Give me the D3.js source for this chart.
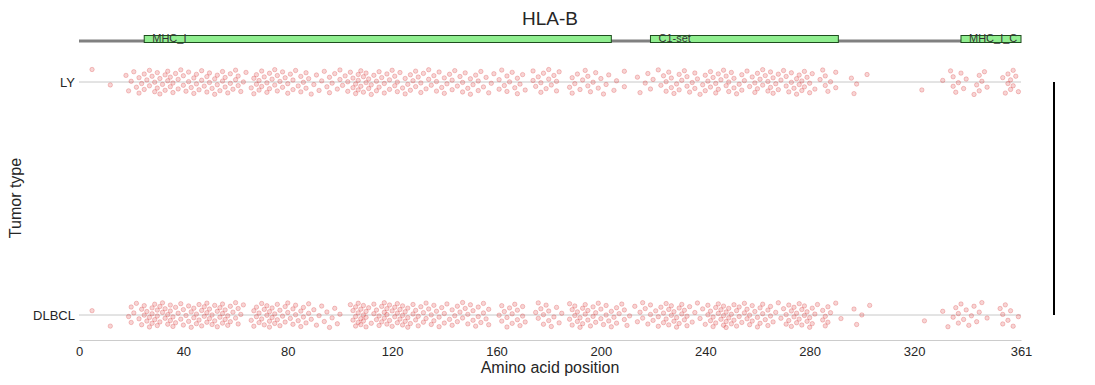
<!DOCTYPE html>
<html>
<head>
<meta charset="utf-8">
<script src="https://cdn.jsdelivr.net/npm/d3@7"></script>
<style>
  body { margin: 0; background: #fff; }
  text { font-family: "Liberation Sans", Arial, sans-serif; fill: #262626; }
</style>
</head>
<body>
<svg id="chart" width="1095" height="385"></svg>
<script>
const geneName = "HLA-B";
const proteinLength = 361;
const tumorTypes = ["LY", "DLBCL"];
const xTicks = [0, 40, 80, 120, 160, 200, 240, 280, 320, 361];

// Pfam domains
const domainNames = ["MHC_I", "C1-set", "MHC_I_C"];
const domainStart = [25, 219, 338];
const domainEnd = [204, 291, 361];

// mutation positions, one entry per point
const lyPositions = [
  5, 12, 18, 19, 20, 21, 22,
  23, 23, 24, 25, 25, 26, 27, 27, 28, 29, 29, 30, 30, 31, 31, 32, 33, 33, 34, 34, 35, 35,
  36, 36, 37, 38, 38, 39, 40, 40, 41, 42, 42, 43, 44, 44, 45, 45, 46, 47, 47, 48,
  49, 49, 50, 50, 51, 52, 52, 53, 53, 54, 55, 55, 56, 56, 57, 58, 58, 59, 60, 60, 61, 61, 62, 63,
  64,
  66, 67, 67, 68, 68, 69, 69, 70, 70, 71, 72, 72, 73, 73, 74, 75, 75, 76, 76, 77, 78, 78, 79, 80, 80, 81, 82, 82, 83, 84, 85, 85,
  86, 87, 87, 88, 89, 90, 91, 92, 93, 94, 95, 96, 96, 97, 98, 99, 100, 100, 101, 102, 103, 103,
  104, 105, 105, 106, 106, 107, 107, 107, 108, 108, 109, 109, 110, 110, 111, 111, 112, 112, 113, 114, 114, 115, 115, 116, 117, 117, 118, 119, 119, 120, 121, 121, 122, 122, 123, 124,
  125, 125, 126, 127, 127, 128, 129, 129, 130, 131, 131, 132, 133, 134, 134, 135, 136, 137, 137, 138, 139, 140, 140, 141, 142, 143, 143, 144, 145, 146,
  147, 147, 148, 149, 150, 150, 151, 152, 153, 153, 154, 155, 156, 157, 158, 159,
  161, 161, 162, 163, 164, 164, 165, 166, 167, 168, 168, 169, 170, 171,
  174, 174, 175, 176, 177, 177, 178, 179, 180, 180, 181, 182, 183, 183, 184,
  188, 189, 189, 190, 191, 192, 193, 194, 195, 195, 196, 197, 198, 199, 200, 201, 202, 203, 205, 206,
  209, 209,
  214, 215, 217, 218, 219, 220, 222, 223,
  224, 225, 225, 226, 227, 227, 228, 229, 230, 230, 231, 232, 233, 233, 234, 235,
  236, 236, 237, 238, 239, 240, 240, 241, 242, 242, 243, 244, 244, 245, 245, 246,
  247, 248, 248, 249, 249, 250, 251, 251, 252, 253, 254, 254, 255, 256, 257, 258,
  259, 259, 260, 260, 261, 262, 262, 263, 264, 264, 265, 265, 266, 266, 267, 268, 268, 269,
  270, 271, 271, 272, 273, 273, 274, 275, 275, 276, 276, 277, 277, 278, 278, 279, 280, 280, 281, 282,
  284, 285, 286, 286, 287, 288, 290, 290,
  296, 297, 298, 302, 323, 331,
  334, 335, 335, 336, 337, 338, 339, 340,
  343, 344, 345, 345, 346, 347, 348,
  354, 355, 356, 356, 357, 357, 358, 358, 359, 360
];

const dlbclPositions = [
  5, 12,
  19, 20, 20, 21, 22, 23, 24, 24,
  25, 25, 26, 26, 27, 27, 28, 28, 28, 29, 29, 30, 30, 30, 31, 31, 32, 32, 33, 33, 34, 34, 35, 35, 35, 36, 36, 37, 37, 38,
  39, 39, 40, 40, 41, 42, 42, 43, 43, 44, 44, 45, 45, 46, 46, 47, 47, 48, 48, 49, 49, 49, 50, 50, 51, 51, 52, 52,
  53, 53, 54, 54, 55, 55, 55, 56, 56, 57, 57, 58, 58, 59, 60, 60, 61, 61, 62, 63,
  66, 67, 67, 68, 68, 69, 69, 70, 70, 71, 71, 72, 72, 73, 73, 73, 74, 74, 75, 75, 76, 76,
  77, 77, 78, 79, 79, 80, 80, 81, 82, 82, 83, 83, 84, 85, 85, 86, 86, 87, 88, 88, 89, 90,
  91, 92, 93, 94, 95, 96, 97, 98, 99, 100,
  104, 105, 105, 106, 106, 106, 107, 107, 107, 108, 108, 108, 109, 109, 109, 110, 110, 110,
  111, 112, 113, 113, 114, 114, 115, 115, 116, 116, 117, 117, 117, 118, 118, 118, 119, 119, 120, 120, 121, 121, 122, 122, 122, 123, 123, 124, 124, 124, 125, 125, 126, 126, 126,
  127, 128, 128, 129, 129, 130, 130, 131, 132, 132, 133, 133, 134, 135, 135, 136, 136, 137, 138, 138, 139, 140, 140, 141,
  142, 143, 143, 144, 145, 145, 146, 147, 147, 148, 149, 149, 150, 151, 151, 152, 153, 153, 154, 155, 155, 156, 157, 157,
  161, 162, 162, 163, 164, 164, 165, 166, 166, 167, 168, 168, 169, 170, 170, 171,
  175, 176, 176, 177, 178, 178, 179, 180, 180, 181, 182, 183, 184, 185,
  188, 188, 189, 189, 190, 190, 191, 191, 192, 192, 193, 193, 194, 194, 195, 195,
  196, 197, 197, 198, 198, 199, 200, 200, 201, 202, 202, 203, 204, 204, 205, 206, 206, 207,
  208, 209, 209, 210, 211,
  213, 214, 215, 216, 216, 217, 218, 219, 219, 220, 221, 222, 222, 223,
  224, 224, 225, 225, 226, 226, 227, 227, 228, 228, 229, 229, 230, 230, 231, 231, 232, 232, 233, 233,
  234, 235, 236, 237, 238, 239, 240, 241,
  241, 242, 242, 243, 243, 244, 244, 245, 245, 246, 246, 247, 247, 247, 248, 248, 248, 249, 249, 250, 250, 251, 251, 252, 252, 253, 253, 254,
  255, 255, 256, 256, 257, 257, 258, 258, 259, 260, 260, 261, 261, 262, 262, 263, 264, 264, 265, 265, 266, 267, 268, 269, 270,
  271, 271, 272, 272, 273, 273, 274, 274, 275, 275, 276, 276, 277, 277, 278, 278, 279, 279, 280, 280, 281, 281, 282, 283,
  285, 285, 286, 286, 287, 287, 288, 290,
  292, 297, 298, 300, 303, 324, 331, 333, 335,
  336, 337, 337, 338, 339, 340, 341, 342, 343, 344, 345, 346,
  348,
  353, 354, 354, 355, 356, 357, 358, 360
];

const svg = d3.select("#chart");

const x = d3.scaleLinear().domain([0, proteinLength]).range([79, 1021]);
const y = d3.scalePoint().domain(tumorTypes).range([82, 315]);
const axisY = 340;
const jitterPx = 12.5;

// title
svg.append("text")
  .attr("x", 550).attr("y", 25)
  .attr("text-anchor", "middle")
  .style("font-size", "19px")
  .text(geneName);

// protein backbone + domains
svg.append("line")
  .attr("x1", x(0)).attr("x2", x(proteinLength))
  .attr("y1", 41).attr("y2", 41)
  .attr("stroke", "#808080").attr("stroke-width", 3);

const domains = domainNames.map((n, i) => ({ name: n, start: domainStart[i], end: domainEnd[i] }));

svg.selectAll(".domain-box")
  .data(domains)
  .enter().append("rect")
  .attr("class", "domain-box")
  .attr("x", d => x(d.start))
  .attr("y", 35.5)
  .attr("width", d => x(d.end) - x(d.start))
  .attr("height", 7)
  .attr("fill", "#90ee90")
  .attr("stroke", "#1e4d1e")
  .attr("stroke-width", 1);

svg.selectAll(".domain-label")
  .data(domains)
  .enter().append("text")
  .attr("class", "domain-label")
  .attr("x", d => x(d.start) + 8)
  .attr("y", 42)
  .style("font-size", "11px")
  .style("fill", "#333")
  .text(d => d.name);

// category gridlines
svg.selectAll(".grid")
  .data(tumorTypes)
  .enter().append("line")
  .attr("class", "grid")
  .attr("x1", x(0)).attr("x2", x(proteinLength))
  .attr("y1", d => y(d)).attr("y2", d => y(d))
  .attr("stroke", "#c8c8c8").attr("stroke-width", 1);

// x axis
const xAxis = svg.append("g")
  .attr("transform", `translate(0, ${axisY})`)
  .call(d3.axisBottom(x).tickValues(xTicks).tickSize(0).tickPadding(7));
xAxis.select(".domain").attr("stroke", "#cccccc").attr("stroke-width", 1.2);
xAxis.selectAll("text")
  .style("font-size", "13px")
  .style("font-family", "'Liberation Sans', Arial, sans-serif")
  .attr("fill", "#262626");

// y axis
const yAxis = svg.append("g")
  .attr("transform", `translate(${x(0)}, 0)`)
  .call(d3.axisLeft(y).tickSize(0).tickPadding(4));
yAxis.select(".domain").remove();
yAxis.selectAll("text")
  .style("font-size", "13px")
  .style("font-family", "'Liberation Sans', Arial, sans-serif")
  .attr("fill", "#262626");

// axis labels
svg.append("text")
  .attr("x", 550).attr("y", 373)
  .attr("text-anchor", "middle")
  .style("font-size", "16px")
  .text("Amino acid position");

svg.append("text")
  .attr("transform", "translate(21, 198) rotate(-90)")
  .attr("text-anchor", "middle")
  .style("font-size", "16px")
  .text("Tumor type");

// strip points (deterministic jitter spread)
const points = [];
lyPositions.forEach((p, i) => points.push({ type: "LY", pos: p, k: i }));
dlbclPositions.forEach((p, i) => points.push({ type: "DLBCL", pos: p, k: i + 7 }));

const jitter = k => (((k * 0.6180339887) % 1) * 2 - 1) * jitterPx;

svg.append("g").selectAll("circle")
  .data(points)
  .enter().append("circle")
  .attr("cx", d => x(d.pos))
  .attr("cy", d => y(d.type) + jitter(d.k))
  .attr("r", 2.2)
  .attr("fill", "#d62728")
  .attr("fill-opacity", 0.2)
  .attr("stroke", "#d62728")
  .attr("stroke-opacity", 0.28)
  .attr("stroke-width", 0.9);

// vertical bar on the right
svg.append("line")
  .attr("x1", 1054).attr("x2", 1054)
  .attr("y1", y("LY")).attr("y2", y("DLBCL"))
  .attr("stroke", "#000").attr("stroke-width", 2);
</script>
</body>
</html>
